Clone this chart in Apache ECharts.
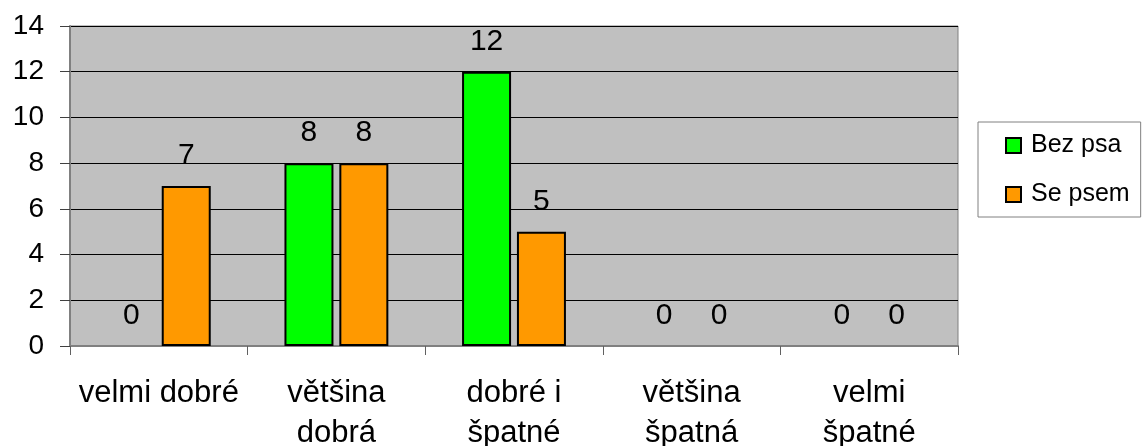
<!DOCTYPE html>
<html>
<head>
<meta charset="utf-8">
<script src="https://cdn.jsdelivr.net/npm/echarts@6/dist/echarts.min.js"></script>
<style>
  html, body { margin: 0; padding: 0; background: #fff; }
</style>
</head>
<body>
<!-- graf: bez psa / se psem -->
<div id="chart" style="width:1146px;height:446px;"></div>
<script>
// kategorie a popisky osy x (zalomene jako v originale)
var categories = ['velmi dobré', 'většina dobrá', 'dobré i špatné', 'většina špatná', 'velmi špatné']
var tickLabels = ['velmi dobré', 'většina\ndobrá', 'dobré i\nšpatné', 'většina\nšpatná', 'velmi\nšpatné']
var bezPsa = [0, 8, 12, 0, 0]
var sePsem = [7, 8, 5, 0, 0]

var font = 'Liberation Sans, Arial, sans-serif'
var chart = echarts.init(document.getElementById('chart'))

var labelOpt = {
  show: true,
  position: 'top',
  distance: 15,
  fontSize: 30,
  fontFamily: font,
  color: '#000'
}

// nulove sloupce bez okraje (jinak je vidět čára na ose)
function toBars(arr) {
  return arr.map(function (v) {
    return v === 0 ? { value: v, itemStyle: { borderWidth: 0 } } : v
  })
}

var option = {
  animation: false,
  grid: {
    left: 70, right: 188, top: 26, bottom: 100,
    outerBoundsMode: 'none',
    show: true,
    backgroundColor: '#c0c0c0',
    borderColor: '#808080',
    borderWidth: 1
  },
  legend: {
    orient: 'vertical',
    left: 978,
    top: 122,
    padding: [11, 11, 10, 27],
    itemGap: 24,
    itemWidth: 15,
    itemHeight: 15,
    icon: 'rect',
    borderColor: '#808080',
    borderWidth: 1,
    textStyle: { fontSize: 25, fontFamily: font, color: '#000', padding: [0, 0, 0, 5] },
    data: ['Bez psa', 'Se psem']
  },
  xAxis: {
    type: 'category',
    data: categories,
    axisLine: { lineStyle: { color: '#808080', width: 2 } },
    axisTick: { show: true, length: 9, interval: 0, lineStyle: { color: '#606060' } },
    axisLabel: {
      interval: 0,
      margin: 27,
      fontSize: 31,
      lineHeight: 40,
      fontFamily: font,
      color: '#000',
      formatter: function (v, i) { return tickLabels[i] }
    }
  },
  yAxis: {
    type: 'value',
    min: 0,
    max: 14,
    interval: 2,
    axisLine: { show: true, lineStyle: { color: '#808080', width: 2 } },
    axisTick: { show: true, length: 10, lineStyle: { color: '#404040' } },
    axisLabel: { margin: 26, fontSize: 28, fontFamily: font, color: '#000' },
    splitLine: { lineStyle: { color: '#000', width: 1 } }
  },
  series: [
    {
      name: 'Bez psa',
      type: 'bar',
      data: toBars(bezPsa),
      barWidth: 49,
      barGap: '12%',
      itemStyle: { color: '#00ff00', borderColor: '#000', borderWidth: 2 },
      label: labelOpt
    },
    {
      name: 'Se psem',
      type: 'bar',
      data: toBars(sePsem),
      barWidth: 49,
      barGap: '12%',
      itemStyle: { color: '#ff9900', borderColor: '#000', borderWidth: 2 },
      label: labelOpt
    }
  ]
}
chart.setOption(option)
</script>
</body>
</html>
